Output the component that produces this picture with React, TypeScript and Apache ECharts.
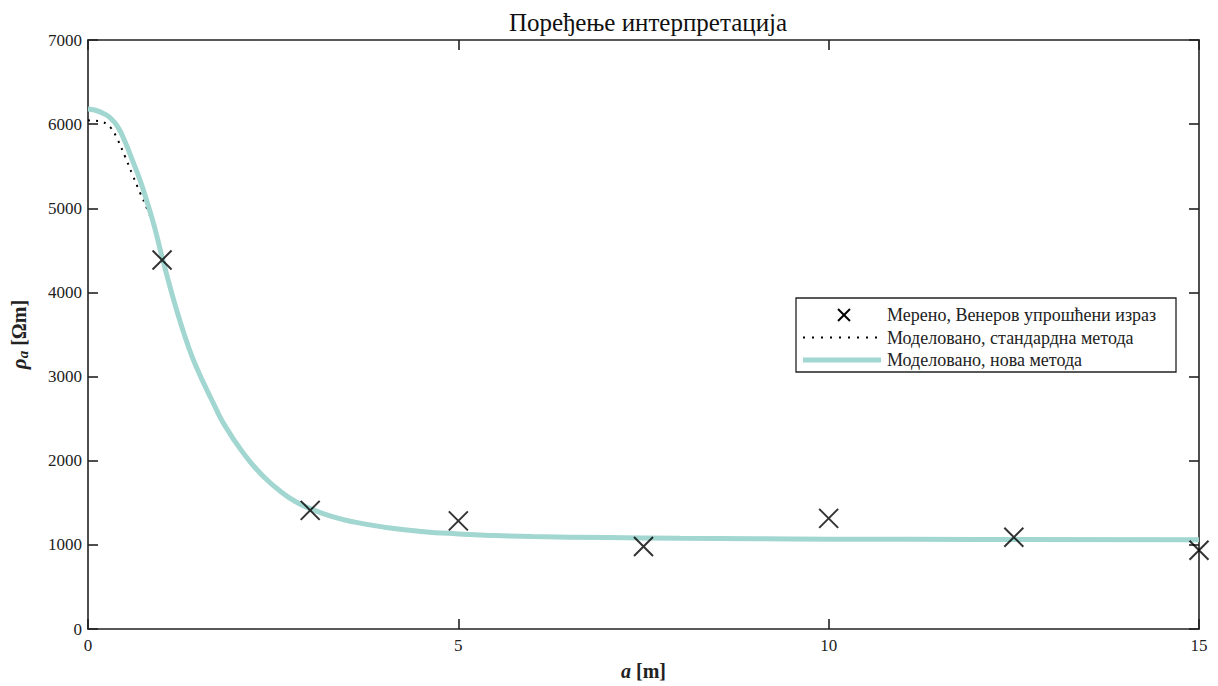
import React, { useEffect, useRef } from "react";
import * as echarts from "echarts";

const measuredX = [1, 3, 5, 7.5, 10, 12.5, 15];
const measuredY = [4385, 1410, 1285, 980, 1315, 1090, 935];

const newX = [0, 0.1, 0.2, 0.3, 0.4, 0.5, 0.6, 0.7, 0.8, 0.9, 1.0, 1.1, 1.2, 1.3, 1.4, 1.5, 1.6, 1.7, 1.8, 1.9, 2.0, 2.2, 2.4, 2.6, 2.8, 3.0, 3.3, 3.6, 4.0, 4.5, 5, 5.5, 6, 7, 8, 9, 10, 12, 15];
const newY = [6180, 6165, 6130, 6075, 5970, 5790, 5570, 5340, 5070, 4770, 4420, 4090, 3780, 3500, 3250, 3040, 2850, 2670, 2490, 2345, 2210, 1975, 1785, 1635, 1515, 1430, 1335, 1270, 1210, 1160, 1130, 1110, 1098, 1086, 1078, 1073, 1068, 1064, 1060];

const stdX = [0, 0.1, 0.2, 0.3, 0.4, 0.5, 0.6, 0.7, 0.8, 0.9, 1.0, 1.1, 1.2, 1.3, 1.4, 1.5, 1.6, 1.7, 1.8, 1.9, 2.0, 2.2, 2.4, 2.6, 2.8, 3.0, 3.3, 3.6, 4.0, 4.5, 5, 5.5, 6, 7, 8, 9, 10, 12, 15];
const stdY = [6045, 6040, 6025, 5965, 5815, 5615, 5400, 5190, 4990, 4760, 4420, 4090, 3780, 3500, 3250, 3040, 2850, 2670, 2490, 2345, 2210, 1975, 1785, 1635, 1515, 1430, 1335, 1270, 1210, 1160, 1130, 1110, 1098, 1086, 1078, 1073, 1068, 1064, 1060];

const xTicks = [0, 5, 10, 15];
const yTicks = [0, 1000, 2000, 3000, 4000, 5000, 6000, 7000];

const seriesNames = [
  "Мерено, Венеров упрошћени израз",
  "Моделовано, стандардна метода",
  "Моделовано, нова метода",
];

const FONT = "'Liberation Serif', 'Times New Roman', serif";
const TEAL = "#a2d6d0";
const INK = "#222";

export default function App() {
  const ref = useRef<HTMLDivElement>(null);
  useEffect(() => {
    if (!ref.current) return;
    const chart = echarts.init(ref.current, null, { renderer: "svg" });
    const axisCommon = {
      type: "value" as const,
      axisLine: { show: true, onZero: false, lineStyle: { color: INK, width: 1.6 } },
      axisTick: { show: true, inside: true, length: 10, lineStyle: { color: INK, width: 1.6 } },
      splitLine: { show: false },
    };
    const lx = 796, ly = 298, lw = 380, lh = 74;
    const rows = [315, 337.5, 360];
    const textX = 887;
    const legendGraphics: any[] = [
      { type: "rect", shape: { x: lx, y: ly, width: lw, height: lh }, style: { fill: "#fff", stroke: INK, lineWidth: 1.3 }, z: 10 },
      { type: "line", shape: { x1: 838, y1: rows[0] - 6, x2: 850, y2: rows[0] + 6 }, style: { stroke: "#000", lineWidth: 2 }, z: 11 },
      { type: "line", shape: { x1: 850, y1: rows[0] - 6, x2: 838, y2: rows[0] + 6 }, style: { stroke: "#000", lineWidth: 2 }, z: 11 },
      { type: "line", shape: { x1: 803, y1: rows[1], x2: 881, y2: rows[1] }, style: { stroke: "#000", lineWidth: 2, lineDash: [2, 7] }, z: 11 },
      { type: "line", shape: { x1: 803, y1: rows[2], x2: 881, y2: rows[2] }, style: { stroke: TEAL, lineWidth: 5 }, z: 11 },
    ];
    seriesNames.forEach((n, i) => {
      legendGraphics.push({
        type: "text",
        x: textX,
        y: rows[i],
        style: { text: n, fontFamily: FONT, fontSize: 18, fill: INK, textVerticalAlign: "middle", verticalAlign: "middle" },
        z: 11,
      });
    });
    chart.setOption({
      animation: false,
      backgroundColor: "#fff",
      title: {
        text: "Поређење интерпретација",
        left: 643,
        textAlign: "center",
        top: 5,
        textStyle: { fontFamily: FONT, fontSize: 25, fontWeight: "normal", color: "#111" },
      },
      grid: { left: 88, right: 19, top: 40, bottom: 51, containLabel: false },
      graphic: legendGraphics,
      xAxis: [
        {
          ...axisCommon,
          min: 0,
          max: 15,
          interval: 5,
          position: "bottom",
          name: "{i|a} [m]",
          nameLocation: "middle",
          nameGap: 32,
          nameTextStyle: {
            fontFamily: FONT,
            fontSize: 20,
            fontWeight: "bold",
            color: INK,
            rich: { i: { fontFamily: FONT, fontSize: 20, fontWeight: "bold", fontStyle: "italic", color: INK } },
          },
          axisLabel: { fontFamily: FONT, fontSize: 17, color: INK, margin: 8, formatter: (v: number) => (xTicks.includes(v) ? String(v) : "") },
        },
        {
          ...axisCommon,
          min: 0,
          max: 15,
          interval: 5,
          position: "top",
          axisLabel: { show: false },
        },
      ],
      yAxis: [
        {
          ...axisCommon,
          min: 0,
          max: 7000,
          interval: 1000,
          position: "left",
          name: "{i|ρ}{s|a} [Ωm]",
          nameLocation: "middle",
          nameGap: 58,
          nameRotate: 90,
          nameTextStyle: {
            fontFamily: FONT,
            fontSize: 20,
            fontWeight: "bold",
            color: INK,
            rich: {
              i: { fontFamily: FONT, fontSize: 21, fontWeight: "bold", fontStyle: "italic", color: INK },
              s: { fontFamily: FONT, fontSize: 15, fontWeight: "bold", fontStyle: "italic", color: INK, verticalAlign: "bottom", padding: [8, 0, 0, 0] },
            },
          },
          axisLabel: { fontFamily: FONT, fontSize: 17, color: INK, margin: 6, formatter: (v: number) => (yTicks.includes(v) ? String(v) : "") },
        },
        {
          ...axisCommon,
          min: 0,
          max: 7000,
          interval: 1000,
          position: "right",
          axisLabel: { show: false },
        },
      ],
      series: [
        {
          name: seriesNames[1],
          type: "line",
          data: stdX.map((x, i) => [x, stdY[i]]),
          smooth: 0.5,
          symbol: "none",
          lineStyle: { color: "#000", width: 2, type: [2, 6] },
          itemStyle: { color: "#000" },
          z: 2,
        },
        {
          name: seriesNames[2],
          type: "line",
          data: newX.map((x, i) => [x, newY[i]]),
          smooth: 0.5,
          symbol: "none",
          lineStyle: { color: TEAL, width: 5 },
          itemStyle: { color: TEAL },
          z: 3,
        },
        {
          name: seriesNames[0],
          type: "scatter",
          data: measuredX.map((x, i) => [x, measuredY[i]]),
          symbol: "path://M0,0L10,10M10,0L0,10",
          symbolSize: 19,
          itemStyle: { color: "none", borderColor: "#000", borderWidth: 2 },
          z: 5,
        },
      ],
    });
    return () => chart.dispose();
  }, []);
  return <div ref={ref} style={{ width: 1218, height: 686, position: "absolute", left: 0, top: 0 }} />;
}
